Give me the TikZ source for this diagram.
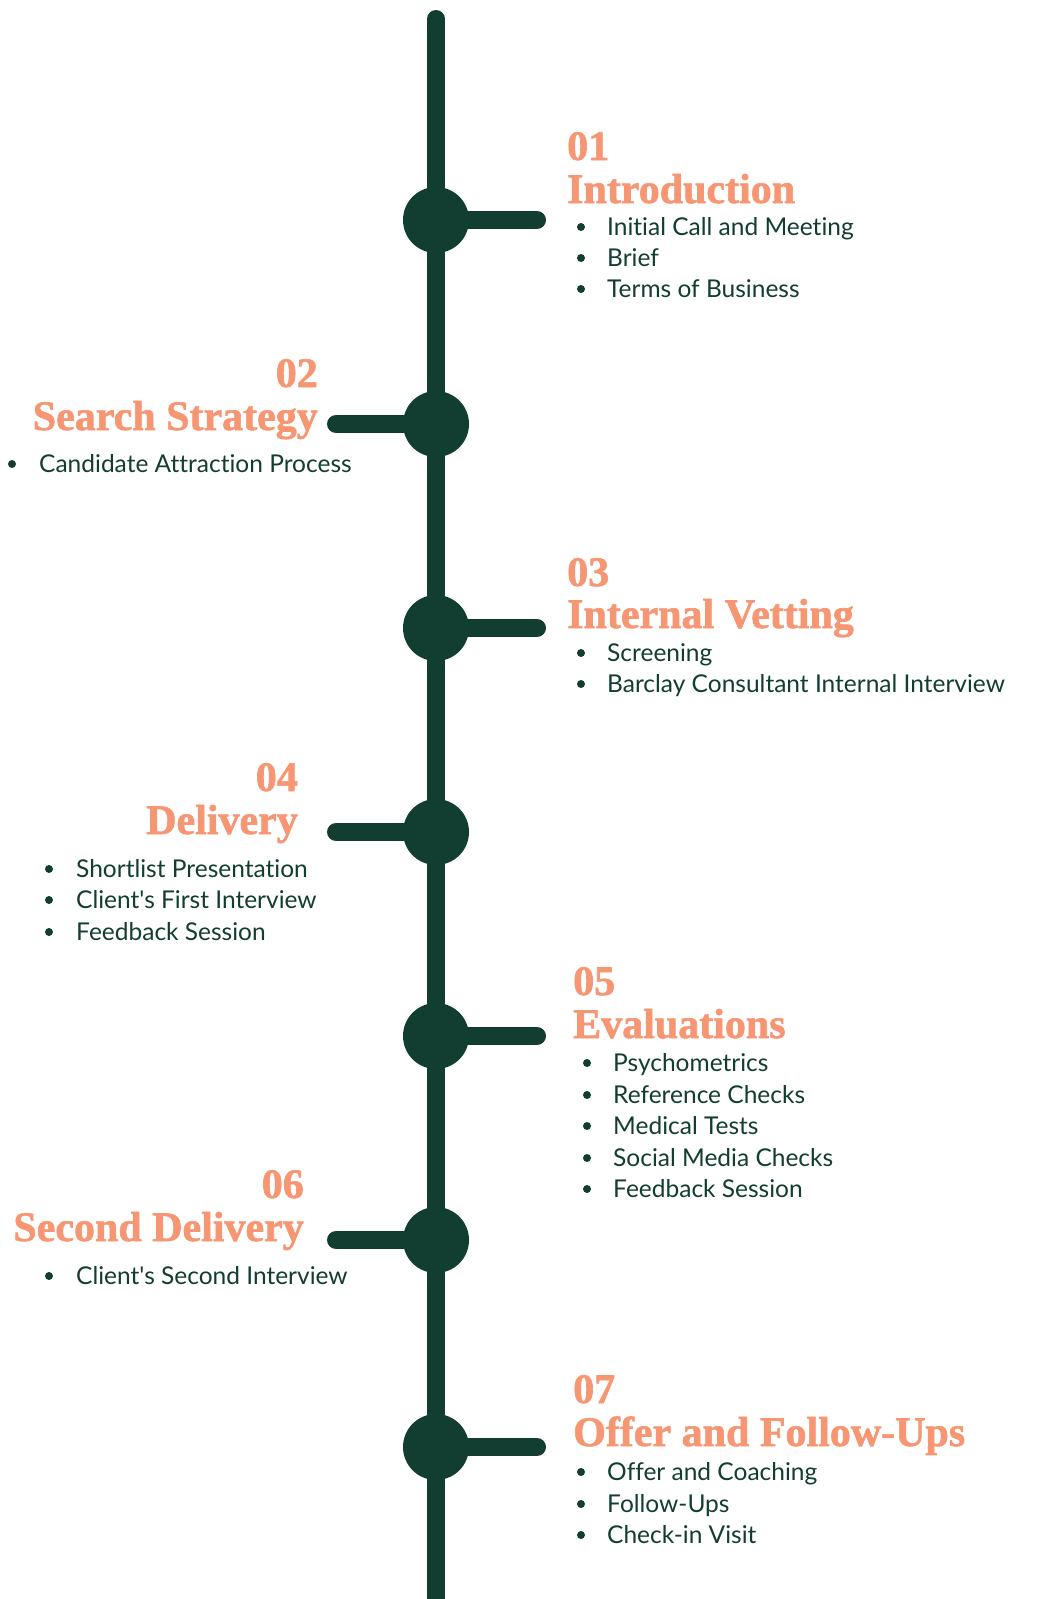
\documentclass[tikz,border=0pt]{standalone}
\usepackage{fontspec}
\setmainfont{Lato}[Ligatures={TeXOff,NoCommon}]
\newfontfamily\headfont{Liberation Serif}[BoldFeatures={FakeBold=1.5}]
\definecolor{dkgreen}{HTML}{123D31}
\definecolor{salmon}{HTML}{F69673}
\tikzset{
  spine/.style={line width=18pt, draw=dkgreen},
  bar/.style={line width=18pt, draw=dkgreen, line cap=round},
  hub/.style={circle, fill=dkgreen, minimum size=66pt, inner sep=0pt},
  num/.style={text=salmon, inner sep=0pt, font=\headfont\bfseries\fontsize{42}{42}\selectfont},
  head/.style={text=salmon, inner sep=0pt, font=\headfont\bfseries\fontsize{42}{42}\selectfont},
  item/.style={text=dkgreen, inner sep=0pt, anchor=base west, font=\fontsize{24.5}{24.5}\selectfont},
  dot/.style={circle, fill=dkgreen, minimum size=8pt, inner sep=0pt},
}
\begin{document}
\begin{tikzpicture}[x=1pt,y=-1pt]
\useasboundingbox (0,0) rectangle (1038,1599);
\coordinate (top) at (436,19);
\coordinate (bot) at (436,1599);
\draw[spine] (top) -- (bot);
\fill[dkgreen] (top) circle (9);
% hubs
\node[hub] (h1) at (436,220) {};
\node[hub] (h2) at (436,424) {};
\node[hub] (h3) at (436,628) {};
\node[hub] (h4) at (436,832) {};
\node[hub] (h5) at (436,1036) {};
\node[hub] (h6) at (436,1240) {};
\node[hub] (h7) at (436,1447) {};
% bar ends
\coordinate (e1) at (537,220);
\coordinate (e2) at (336,424);
\coordinate (e3) at (537,628);
\coordinate (e4) at (336,832);
\coordinate (e5) at (537,1036);
\coordinate (e6) at (336,1240);
\coordinate (e7) at (537,1447);
\foreach \i in {1,...,7} \draw[bar] (h\i.center) -- (e\i);

% 01
\node[num, anchor=base west] (n1) at (567,160) {01};
\node[head, anchor=base west] (t1) at (567,203) {Introduction};
\node[dot] (b11) at (581,227) {}; \node[item] (i11) at (607,235) {Initial Call and Meeting};
\node[dot] (b12) at (581,258) {}; \node[item] (i12) at (607,266) {Brief};
\node[dot] (b13) at (581,289) {}; \node[item] (i13) at (607,297) {Terms of Business};

% 02
\node[num, anchor=base east] (n2) at (318,387) {02};
\node[head, anchor=base east] (t2) at (318,430) {Search Strategy};
\node[dot] (b21) at (12,464) {}; \node[item] (i21) at (39,472) {Candidate Attraction Process};

% 03
\node[num, anchor=base west] (n3) at (567,586) {03};
\node[head, anchor=base west] (t3) at (567,628) {Internal Vetting};
\node[dot] (b31) at (581,653) {}; \node[item] (i31) at (607,661) {Screening};
\node[dot] (b32) at (581,684) {}; \node[item] (i32) at (607,692) {Barclay Consultant Internal Interview};

% 04
\node[num, anchor=base east] (n4) at (298,791) {04};
\node[head, anchor=base east] (t4) at (298,834) {Delivery};
\node[dot] (b41) at (49,869) {}; \node[item] (i41) at (76,877) {Shortlist Presentation};
\node[dot] (b42) at (49,900) {}; \node[item] (i42) at (76,908) {Client's First Interview};
\node[dot] (b43) at (49,932) {}; \node[item] (i43) at (76,940) {Feedback Session};

% 05
\node[num, anchor=base west] (n5) at (573,995) {05};
\node[head, anchor=base west] (t5) at (573,1038) {Evaluations};
\node[dot] (b51) at (587,1063) {}; \node[item] (i51) at (613,1071) {Psychometrics};
\node[dot] (b52) at (587,1095) {}; \node[item] (i52) at (613,1103) {Reference Checks};
\node[dot] (b53) at (587,1126) {}; \node[item] (i53) at (613,1134) {Medical Tests};
\node[dot] (b54) at (587,1158) {}; \node[item] (i54) at (613,1166) {Social Media Checks};
\node[dot] (b55) at (587,1189) {}; \node[item] (i55) at (613,1197) {Feedback Session};

% 06
\node[num, anchor=base east] (n6) at (304,1198) {06};
\node[head, anchor=base east] (t6) at (304,1241) {Second Delivery};
\node[dot] (b61) at (49,1276) {}; \node[item] (i61) at (76,1284) {Client's Second Interview};

% 07
\node[num, anchor=base west] (n7) at (573,1403) {07};
\node[head, anchor=base west] (t7) at (573,1446) {Offer and Follow-Ups};
\node[dot] (b71) at (581,1472) {}; \node[item] (i71) at (607,1480) {Offer and Coaching};
\node[dot] (b72) at (581,1504) {}; \node[item] (i72) at (607,1512) {Follow-Ups};
\node[dot] (b73) at (581,1535) {}; \node[item] (i73) at (607,1543) {Check-in Visit};
\end{tikzpicture}
\end{document}
